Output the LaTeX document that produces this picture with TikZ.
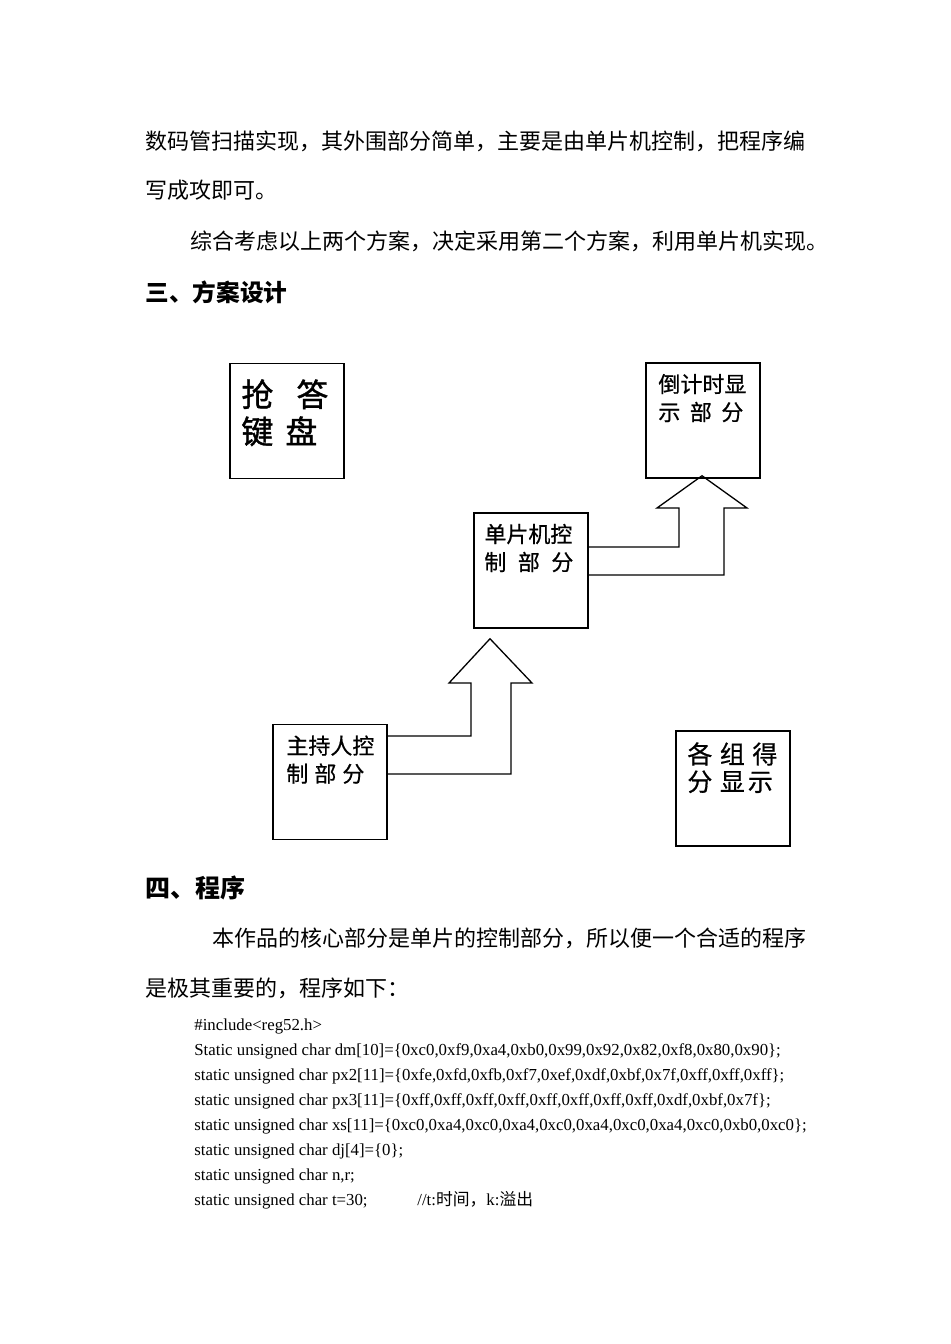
\documentclass[tikz,border=0pt]{standalone}
\usepackage{fontspec}
\setmainfont{Liberation Serif}
\newfontfamily\cjk{Noto Sans CJK SC}
\newfontfamily\cjkm{Noto Sans CJK SC}[FakeBold=0.6]
\newfontfamily\cjkh{Noto Sans CJK SC}[FakeBold=1.2]
\XeTeXlinebreaklocale "zh"
\XeTeXlinebreakskip=0pt plus 3pt minus 1pt
\tikzset{
  box/.style={draw, line width=0.75pt, minimum width=57pt, minimum height=57.5pt, inner sep=0pt},
  arrowline/.style={draw, line width=0.65pt, line join=miter},
  body/.style={anchor=base west, inner sep=0pt, font=\cjk\fontsize{11pt}{13pt}\selectfont},
  headA/.style={anchor=base west, inner sep=0pt, font=\cjk\bfseries\fontsize{11.85pt}{14pt}\selectfont},
  headB/.style={anchor=base west, inner sep=0pt, font=\cjk\bfseries\fontsize{12.5pt}{14pt}\selectfont},
  lab/.style={anchor=base west, inner sep=0pt, font=\cjkm\fontsize{11pt}{13pt}\selectfont},
  labbig/.style={anchor=base west, inner sep=0pt, font=\cjkh\fontsize{16pt}{18pt}\selectfont},
  labmid/.style={anchor=base west, inner sep=0pt, font=\cjkm\fontsize{12.5pt}{14pt}\selectfont},
  code/.style={anchor=base west, inner sep=0pt, font=\fontsize{8.4pt}{12.5pt}\selectfont}
}
\begin{document}
\begin{tikzpicture}[x=0.5pt,y=-0.5pt]
\useasboundingbox[fill=white] (0,0) rectangle (950,1344);

% body text
\node[body] (t1) at (145,149.4) {\makebox[330.5pt][s]{数码管扫描实现，其外围部分简单，主要是由单片机控制，把程序编}};
\node[body] (t2) at (145,198.4) {写成攻即可。};
\node[body] (t3) at (190,249.4) {\makebox[314pt][s]{综合考虑以上两个方案，决定采用第二个方案，利用单片机实现。}};
\node[headA] (h3) at (145,301) {三、方案设计};

% boxes
\node[box] (kb) at (287,421) {};
\node[box] (cd) at (703,420.5) {};
\node[box] (mcu) at (531,570.5) {};
\node[box] (host) at (330,781.75) {};
\node[box] (score) at (733,788.5) {};

% box labels
\node[labbig] (kb1) at (241,406.5) {抢\hspace{11.5pt}答};
\node[labbig] (kb2) at (241,443.5) {键\hspace{6pt}盘};
\node[lab] (cd1) at (658,392.4) {倒计时显};
\node[lab] (cd2) at (658,420.4) {示\hspace{4.75pt}部\hspace{4.75pt}分};
\node[lab] (mcu1) at (484,542.4) {单片机控};
\node[lab] (mcu2) at (484,570.4) {制\hspace{5.75pt}部\hspace{5.75pt}分};
\node[lab] (host1) at (286,754) {主持人控};
\node[lab] (host2) at (286,782) {制\hspace{3pt}部\hspace{3pt}分};
\node[labmid] (sc1) at (687,763.5) {各\hspace{3.75pt}组\hspace{3.75pt}得};
\node[labmid] (sc2) at (687,791) {分\hspace{3.75pt}显\hspace{1.5pt}示};

% block arrow: mcu -> cd
\path (mcu.east) ++(0,-23.5) coordinate (aS) ++(0,28) coordinate (aE);
\path (cd.south) ++(-1,-3) coordinate (aTip);
\draw[arrowline] (aS) -- (679,547) -- (679,508) -- (657,508) -- (aTip)
  -- (747,508) -- (724,508) -- (724,575) -- (aE);

% block arrow: host -> mcu
\path (host.east) ++(0,-45.75) coordinate (bS) ++(0,38) coordinate (bE);
\path (mcu.south) ++(-41,10) coordinate (bTip);
\draw[arrowline] (bS) -- (471,736) -- (471,683) -- (449,683) -- (bTip)
  -- (532,683) -- (511,683) -- (511,774) -- (bE);

% section 4
\node[headB] (h4) at (145,897.5) {四、程序};
\node[body] (t4) at (212,946.4) {本作品的核心部分是单片的控制部分，所以便一个合适的程序};
\node[body] (t5) at (145,996.4) {是极其重要的，程序如下：};

% code
\node[code] (c1) at (194,1030.5) {\#include<reg52.h>};
\node[code] (c2) at (194,1055.5) {Static unsigned char dm[10]=\{0xc0,0xf9,0xa4,0xb0,0x99,0x92,0x82,0xf8,0x80,0x90\};};
\node[code] (c3) at (194,1080.5) {static unsigned char px2[11]=\{0xfe,0xfd,0xfb,0xf7,0xef,0xdf,0xbf,0x7f,0xff,0xff,0xff\};};
\node[code] (c4) at (194,1105.5) {static unsigned char px3[11]=\{0xff,0xff,0xff,0xff,0xff,0xff,0xff,0xff,0xdf,0xbf,0x7f\};};
\node[code] (c5) at (194,1130.5) {static unsigned char xs[11]=\{0xc0,0xa4,0xc0,0xa4,0xc0,0xa4,0xc0,0xa4,0xc0,0xb0,0xc0\};};
\node[code] (c6) at (194,1155.5) {static unsigned char dj[4]=\{0\};};
\node[code] (c7) at (194,1180.5) {static unsigned char n,r;};
\node[code] (c8) at (194,1205.5) {static unsigned char t=30;};
\node[code] (c9) at (417,1205.5) {//t:{\cjk 时间，}k:{\cjk 溢出}};
\end{tikzpicture}
\end{document}
